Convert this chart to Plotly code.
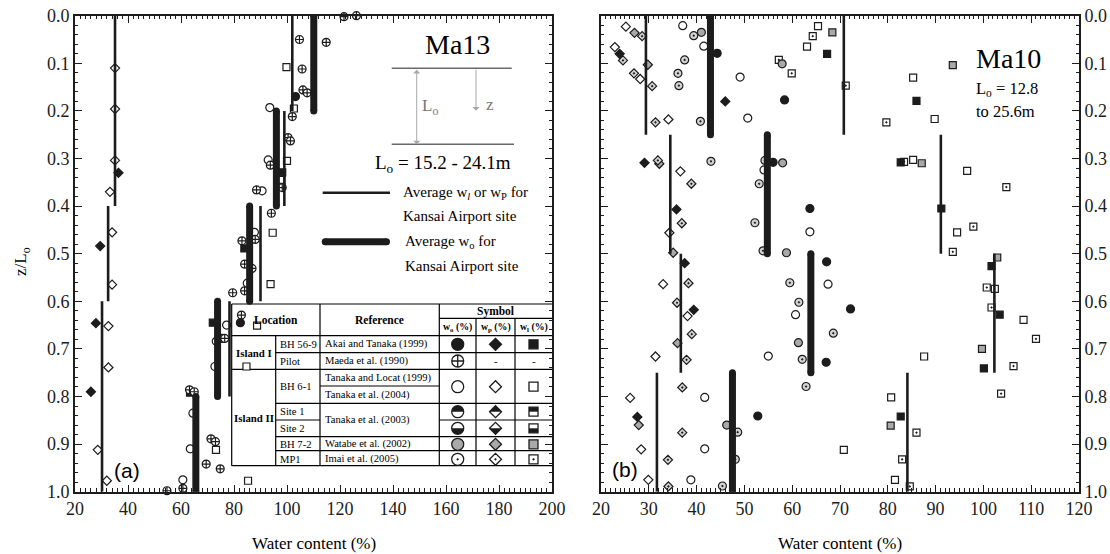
import math
import plotly.graph_objects as go

W, H = 1110, 554
INK = "#1c1c1c"
GRAY_FILL = "#a9a9a9"
DOT_FILL = "#d4d4d4"
SERIF = "'Liberation Serif', 'Times New Roman', Times, 'DejaVu Serif', serif"
SANS = "'Liberation Sans', Arial, sans-serif"

# ---------------- Ma13 : panel (a) ----------------
a_bh569_wo_w = [103.2, 82.4]
a_bh569_wo_z = [0.170, 0.645]
a_bh569_wp_w = [36.4, 29.5, 27.9, 26.0]
a_bh569_wp_z = [0.330, 0.484, 0.646, 0.790]
a_bh569_wl_w = [98.2, 83.9, 72.0, 63.4]
a_bh569_wl_z = [0.329, 0.489, 0.645, 0.792]

a_pilot_wo_w = [126.2, 121.5, 104.7, 114.8, 105.7, 106.0, 107.6, 102.0, 100.4, 101.3,
                93.7, 98.2, 88.5, 94.1, 83.0, 88.0, 84.0, 86.8, 79.5, 84.0,
                82.8, 75.5, 76.5, 63.2, 65.0, 71.3, 73.0, 69.5, 74.8, 60.7, 54.7]
a_pilot_wo_z = [0.000, 0.002, 0.050, 0.056, 0.112, 0.156, 0.162, 0.212, 0.256, 0.263,
                0.314, 0.361, 0.366, 0.415, 0.473, 0.470, 0.522, 0.531, 0.582, 0.578,
                0.629, 0.678, 0.678, 0.786, 0.790, 0.889, 0.895, 0.942, 0.952, 0.993, 0.998]

a_bh61_wo_w = [93.5, 92.9, 90.6, 87.7, 85.0, 77.2, 73.3, 72.8, 64.5, 63.5, 60.7]
a_bh61_wo_z = [0.193, 0.303, 0.368, 0.455, 0.562, 0.650, 0.684, 0.737, 0.835, 0.910, 0.975]
a_bh61_wp_w = [35.1, 35.1, 35.1, 33.2, 34.0, 34.0, 32.6, 32.6, 28.6, 32.0]
a_bh61_wp_z = [0.110, 0.196, 0.304, 0.370, 0.455, 0.565, 0.652, 0.739, 0.912, 0.977]
a_bh61_wl_w = [99.8, 102.6, 100.0, 97.9, 94.6, 93.8, 88.7, 84.7, 73.2, 85.3]
a_bh61_wl_z = [0.108, 0.195, 0.305, 0.345, 0.456, 0.564, 0.651, 0.737, 0.912, 0.977]

# site averages: (water content, top z/Lo, bottom z/Lo)
a_avg_wlp = [(35.1, 0.0, 0.4), (32.5, 0.4, 0.6), (30.2, 0.6, 1.0),
             (102.0, 0.0, 0.2), (99.0, 0.2, 0.4), (90.0, 0.4, 0.6), (78.3, 0.6, 0.8)]
a_avg_wo = [(110.1, 0.0, 0.2), (96.0, 0.2, 0.4), (85.9, 0.4, 0.6),
            (73.8, 0.6, 0.8), (65.6, 0.8, 1.0)]

# ---------------- Ma10 : panel (b) ----------------
b_bh569_wo_w = [44.3, 56.0, 58.4, 63.7, 67.2, 72.2, 67.1, 52.8]
b_bh569_wo_z = [0.079, 0.308, 0.177, 0.405, 0.517, 0.616, 0.728, 0.841]
b_bh569_wp_w = [23.9, 46.0, 29.1, 35.8, 37.5, 39.4, 27.6]
b_bh569_wp_z = [0.080, 0.180, 0.309, 0.407, 0.520, 0.618, 0.843]
b_bh569_wl_w = [67.3, 86.0, 82.7, 91.2, 101.7, 103.4, 100.1, 82.7]
b_bh569_wl_z = [0.080, 0.179, 0.308, 0.405, 0.526, 0.628, 0.741, 0.842]

b_bh61_wo_w = [37.1, 41.5, 49.1, 50.7, 54.1, 63.7, 67.5, 60.7, 55.0, 41.7, 41.7, 38.8]
b_bh61_wo_z = [0.021, 0.064, 0.129, 0.215, 0.324, 0.454, 0.564, 0.628, 0.715, 0.802, 0.910, 0.975]
b_bh61_wp_w = [25.2, 22.9, 28.2, 34.1, 36.6, 34.3, 33.0, 38.1, 31.4, 26.1, 28.4, 29.9]
b_bh61_wp_z = [0.023, 0.066, 0.133, 0.218, 0.327, 0.456, 0.564, 0.631, 0.716, 0.803, 0.911, 0.975]
b_bh61_wl_w = [65.4, 63.1, 85.3, 89.8, 85.3, 96.6, 94.5, 102.4, 108.4, 87.6, 80.7, 70.8, 81.5]
b_bh61_wl_z = [0.022, 0.065, 0.130, 0.217, 0.303, 0.326, 0.455, 0.574, 0.639, 0.716, 0.802, 0.912, 0.975]

b_bh72_wo_w = [41.0, 57.9, 58.0, 58.8, 61.3, 46.3]
b_bh72_wo_z = [0.035, 0.101, 0.309, 0.498, 0.687, 0.860]
b_bh72_wp_w = [27.0, 29.8, 32.2, 35.1, 36.0, 27.9]
b_bh72_wp_z = [0.036, 0.103, 0.311, 0.498, 0.688, 0.860]
b_bh72_wl_w = [68.4, 93.6, 87.1, 102.9, 99.7, 80.6]
b_bh72_wl_z = [0.035, 0.104, 0.310, 0.508, 0.700, 0.861]

b_mp1_wo_w = [39.4, 37.5, 36.1, 36.3, 40.8, 43.0, 54.3, 53.1, 52.2, 53.9, 59.5, 61.4,
              68.6, 62.1, 62.9, 48.6, 48.1, 45.4]
b_mp1_wo_z = [0.042, 0.093, 0.121, 0.147, 0.222, 0.306, 0.304, 0.353, 0.435, 0.494, 0.561, 0.602,
              0.667, 0.722, 0.779, 0.875, 0.932, 0.988]
b_mp1_wp_w = [28.6, 24.6, 26.9, 30.7, 31.4, 31.9, 38.9, 36.9, 38.3, 35.9, 39.0, 37.9,
              37.0, 37.0, 34.0, 34.1]
b_mp1_wp_z = [0.043, 0.094, 0.121, 0.148, 0.224, 0.304, 0.353, 0.436, 0.562, 0.603, 0.669, 0.723,
              0.781, 0.876, 0.933, 0.989]
b_mp1_wl_w = [64.3, 57.2, 59.9, 71.2, 79.7, 83.4, 104.8, 97.9, 93.6, 100.7, 101.7, 111.0,
              106.3, 103.7, 86.0, 83.0, 84.6]
b_mp1_wl_z = [0.043, 0.093, 0.121, 0.147, 0.224, 0.307, 0.360, 0.443, 0.496, 0.571, 0.613, 0.679,
              0.736, 0.794, 0.876, 0.932, 0.989]

b_avg_wlp = [(29.4, 0.0, 0.25), (34.5, 0.25, 0.5), (36.7, 0.5, 0.75), (31.7, 0.75, 1.0),
             (70.8, 0.0, 0.25), (91.1, 0.25, 0.5), (102.3, 0.5, 0.75), (84.1, 0.75, 1.0)]
b_avg_wo = [(42.9, 0.0, 0.25), (54.8, 0.25, 0.5), (63.9, 0.5, 0.75), (47.5, 0.75, 1.0)]

# ---------------- symbol key table ----------------
table_sites = ["BH 56-9", "Pilot", "BH 6-1", "Site 1", "Site 2", "BH 7-2", "MP1"]
table_refs = ["Akai and Tanaka (1999)", "Maeda et al. (1990)", "Tanaka and Locat (1999)",
              "Tanaka et al. (2004)", "Tanaka et al. (2003)", "Watabe et al. (2002)",
              "Imai et al. (2005)"]
table_cols = ["w<sub>o</sub> (%)", "w<sub>p</sub> (%)", "w<sub>l</sub> (%)"]

fig = go.Figure()

AX = {"a": ("x", "y"), "b": ("x2", "y2")}


def markers(panel, w, z, symbol, fill, size, lw=1.2):
    xa, ya = AX[panel]
    fig.add_trace(go.Scatter(
        x=w, y=z, mode="markers", xaxis=xa, yaxis=ya, cliponaxis=False,
        hoverinfo="skip",
        marker=dict(symbol=symbol, size=size, color=fill, line=dict(color=INK, width=lw))))


def averages(panel, segs, width, caps):
    xa, ya = AX[panel]
    xs, ys = [], []
    for w, z0, z1 in segs:
        xs += [w, w, None]
        ys += [z0, z1, None]
    fig.add_trace(go.Scatter(
        x=xs, y=ys, mode="lines+markers" if caps else "lines", xaxis=xa, yaxis=ya,
        hoverinfo="skip", line=dict(color=INK, width=width),
        marker=dict(size=width, color=INK, symbol="circle", line=dict(width=0))))


# panel (a)
markers("a", a_bh61_wp_w, a_bh61_wp_z, "diamond", "white", 7)
markers("a", a_bh569_wp_w, a_bh569_wp_z, "diamond", INK, 7)
markers("a", a_bh61_wl_w, a_bh61_wl_z, "square", "white", 7)
markers("a", a_bh569_wl_w, a_bh569_wl_z, "square", INK, 7)
markers("a", a_bh61_wo_w, a_bh61_wo_z, "circle", "white", 8)
markers("a", a_pilot_wo_w, a_pilot_wo_z, "circle-cross", "white", 8)
markers("a", a_bh569_wo_w, a_bh569_wo_z, "circle", INK, 8)
averages("a", a_avg_wlp, 2.6, False)
averages("a", a_avg_wo, 7, True)

# panel (b)
markers("b", b_bh61_wp_w, b_bh61_wp_z, "diamond", "white", 7)
markers("b", b_bh72_wp_w, b_bh72_wp_z, "diamond", GRAY_FILL, 7)
markers("b", b_mp1_wp_w, b_mp1_wp_z, "diamond-dot", DOT_FILL, 7)
markers("b", b_bh569_wp_w, b_bh569_wp_z, "diamond", INK, 7)
markers("b", b_bh61_wl_w, b_bh61_wl_z, "square", "white", 7)
markers("b", b_bh72_wl_w, b_bh72_wl_z, "square", GRAY_FILL, 7)
markers("b", b_mp1_wl_w, b_mp1_wl_z, "square-dot", "white", 7)
markers("b", b_bh569_wl_w, b_bh569_wl_z, "square", INK, 7)
markers("b", b_bh61_wo_w, b_bh61_wo_z, "circle", "white", 8)
markers("b", b_bh72_wo_w, b_bh72_wo_z, "circle", GRAY_FILL, 8)
markers("b", b_mp1_wo_w, b_mp1_wo_z, "circle-dot", DOT_FILL, 8)
markers("b", b_bh569_wo_w, b_bh569_wo_z, "circle", INK, 8)
averages("b", b_avg_wlp, 2.6, False)
averages("b", b_avg_wo, 7, True)


# ---- overlay drawn in page pixels (x3/y3) for the key table and the Ma13 sketch ----
def ppx(x):
    return x / W


def ppy(y):
    return 1 - y / H


shapes = []


def seg(x0, y0, x1, y1, color="black", width=1.2):
    shapes.append(dict(type="line", xref="paper", yref="paper", layer="below",
                       x0=ppx(x0), y0=ppy(y0), x1=ppx(x1), y1=ppy(y1),
                       line=dict(color=color, width=width)))


# table frame
TL, TR, TT, TB = 231.7, 552.0, 304.0, 465.7
C1, C2, C3, C4, C5 = 275.7, 320.0, 439.3, 476.0, 515.0
seg(TL, TT, TR, TT)
seg(TL, TB, TR, TB)
seg(TL, TT, TL, TB)
seg(C1, 335.7, C1, TB)
seg(C2, TT, C2, TB)
seg(C3, TT, C3, TB)
seg(C4, 318.3, C4, TB)
seg(C5, 318.3, C5, TB)
seg(C3, 318.3, TR, 318.3)
seg(TL, 335.7, TR, 335.7)
seg(C1, 352.7, TR, 352.7)
seg(TL, 369.3, TR, 369.3)
seg(C2, 386.0, C3, 386.0)
seg(C1, 403.3, TR, 403.3)
seg(C1, 420.0, C2, 420.0)
seg(C3, 420.0, TR, 420.0)
seg(C1, 436.7, TR, 436.7)
seg(C1, 450.7, TR, 450.7)

# Ma13 sketch: layer boundaries
seg(391.7, 68.3, 511.7, 68.3, "#6a6a6a", 1.5)
seg(391.7, 144.3, 514.0, 144.3, "#6a6a6a", 1.5)

annotations = []


def text(x, y, s, size=10.6, xanchor="left", color="black", family=SERIF, **kw):
    annotations.append(dict(x=x, y=y, xref="x3", yref="y3", text=s, showarrow=False,
                            xanchor=xanchor, yanchor="middle",
                            font=dict(family=family, size=size, color=color), **kw))


# table header
text(276.0, 320.0, "<b>Location</b>", 11.5, "center")
text(379.6, 320.0, "<b>Reference</b>", 11.5, "center")
text(495.6, 311.0, "<b>Symbol</b>", 11.5, "center")
col_x = [457.7, 495.5, 533.5]
for cx, lab in zip(col_x, table_cols):
    text(cx, 327.3, "<b>" + lab + "</b>", 9.8, "center")
text(254.0, 353.3, "<b>Island I</b>", 10.8, "center")
text(254.0, 418.3, "<b>Island II</b>", 10.8, "center")

site_y = [344.3, 361.0, 386.7, 411.7, 428.3, 444.3, 459.3]
for yy, s in zip(site_y, table_sites):
    text(278.3, yy, s)
ref_y = [344.3, 361.0, 378.3, 395.0, 420.0, 444.3, 459.3]
for yy, s in zip(ref_y, table_refs):
    text(322.7, yy, s)
text(col_x[1], 361.0, "-", 11, "center")
text(col_x[2], 361.0, "-", 11, "center")


def key_marker(x, y, symbol, fill, size):
    fig.add_trace(go.Scatter(x=[x], y=[y], mode="markers", xaxis="x3", yaxis="y3",
                             hoverinfo="skip", cliponaxis=False,
                             marker=dict(symbol=symbol, size=size, color=fill,
                                         line=dict(color=INK, width=1.3))))


def key_half(kind, cx, cy, top):
    sgn = -1 if top else 1
    if kind == "circle":
        r = 6.0
        angs = [math.pi * k / 24 for k in range(25)]
        xs = [cx + r * math.cos(a) for a in angs]
        ys = [cy + sgn * r * math.sin(a) for a in angs]
    elif kind == "diamond":
        r = 6.0
        xs = [cx - r, cx, cx + r]
        ys = [cy, cy + sgn * r, cy]
    else:
        s = 4.5
        xs = [cx - s, cx - s, cx + s, cx + s]
        ys = [cy, cy + sgn * s, cy + sgn * s, cy]
    fig.add_trace(go.Scatter(x=xs + [xs[0]], y=ys + [ys[0]], mode="lines", fill="toself",
                             fillcolor=INK, line=dict(width=0), xaxis="x3", yaxis="y3",
                             hoverinfo="skip"))


kinds = ["circle", "diamond", "square"]
sizes = [12, 9.2, 9]
row_fill = {0: INK, 2: "white", 3: "white", 4: "white", 5: GRAY_FILL}
for i, yy in enumerate(site_y):
    for j, (cx, kind, sz) in enumerate(zip(col_x, kinds, sizes)):
        if i == 1:
            if j == 0:
                key_marker(cx, yy, "circle-cross", "white", sz)
            continue
        if i == 6:
            key_marker(cx, yy, kind + "-dot", "white", sz)
            continue
        key_marker(cx, yy, kind, row_fill[i], sz)
        if i in (3, 4):
            key_half(kind, cx, yy, top=(i == 3))

# Ma13 sketch: arrows and labels
annotations.append(dict(x=416.7, y=144.3, ax=416.7, ay=68.3, xref="x3", yref="y3",
                        axref="x3", ayref="y3", text="", showarrow=True, arrowhead=1,
                        startarrowhead=1, arrowside="end+start", arrowsize=1.2,
                        arrowwidth=1, arrowcolor="#a8a8a8"))
annotations.append(dict(x=476.0, y=110.7, ax=476.0, ay=68.3, xref="x3", yref="y3",
                        axref="x3", ayref="y3", text="", showarrow=True, arrowhead=1,
                        arrowsize=1.2, arrowwidth=1, arrowcolor="#a8a8a8"))
text(420.0, 107.0, "L<sub>o</sub>", 17, "left", "#777777")
text(484.0, 104.0, "z", 17, "left", "#777777")
text(457.3, 44.5, "Ma13", 28, "center")
text(443.3, 163.5, "L<sub>o</sub> = 15.2 - 24.1m", 19, "center")
text(400.7, 192.7, "Average w<sub><i>l</i></sub> or w<sub>P</sub> for", 15)
text(400.7, 215.5, "Kansai Airport site", 15)
text(402.7, 241.7, "Average w<sub>o</sub> for", 15)
text(402.7, 266.0, "Kansai Airport site", 15)

# key lines for the averages
fig.add_trace(go.Scatter(x=[322.7, 390.0], y=[192.7, 192.7], mode="lines", xaxis="x3",
                         yaxis="y3", hoverinfo="skip", line=dict(color=INK, width=2.6)))
fig.add_trace(go.Scatter(x=[325.2, 386.5], y=[241.7, 241.7], mode="lines+markers",
                         xaxis="x3", yaxis="y3", hoverinfo="skip",
                         line=dict(color=INK, width=7),
                         marker=dict(size=7, color=INK, line=dict(width=0))))

# Ma10 labels
text(1008.0, 58.0, "Ma10", 28, "center")
text(974.0, 89.0, "L<sub>o</sub> = 12.8", 16.5)
text(974.0, 111.0, "to 25.6m", 16.5)

# panel tags
text(127.0, 470.0, "(a)", 21, "center", family=SANS)
text(625.0, 469.0, "(b)", 21, "center", family=SANS)

# axis titles
text(313.5, 543.0, "Water content (%)", 17, "center")
text(840.0, 543.0, "Water content (%)", 17, "center")
text(22.0, 262.0, "z/L<sub>o</sub>", 17, "center", textangle=-90)

Y0 = 1 - 491.7 / H
Y1 = 1 - 15.7 / H
common = dict(showline=True, linecolor=INK, linewidth=1.8, mirror="ticks", ticks="inside",
              ticklen=7, tickwidth=1.3, tickcolor=INK, showgrid=False, zeroline=False,
              automargin=False, tickfont=dict(family=SERIF, size=18, color=INK))

fig.update_layout(
    width=W, height=H, margin=dict(l=0, r=0, t=0, b=0),
    paper_bgcolor="white", plot_bgcolor="rgba(0,0,0,0)", showlegend=False,
    font=dict(family=SERIF, size=17, color=INK),
    xaxis=dict(domain=[75 / W, 552 / W], range=[20, 200], dtick=20, tick0=20, anchor="y",
               minor=dict(dtick=2, ticks="inside", ticklen=3.5, tickwidth=1, tickcolor=INK),
               **common),
    yaxis=dict(domain=[Y0, Y1], range=[1, 0], dtick=0.1, tick0=0, tickformat=".1f", anchor="x",
               minor=dict(dtick=0.02, ticks="inside", ticklen=3.5, tickwidth=1, tickcolor=INK),
               **common),
    xaxis2=dict(domain=[601 / W, 1079 / W], range=[20, 120], dtick=10, tick0=20, anchor="y2",
                minor=dict(dtick=1, ticks="inside", ticklen=3.5, tickwidth=1, tickcolor=INK),
                **common),
    yaxis2=dict(domain=[Y0, Y1], range=[1, 0], dtick=0.1, tick0=0, tickformat=".1f",
                anchor="x2", side="right",
                minor=dict(dtick=0.02, ticks="inside", ticklen=3.5, tickwidth=1, tickcolor=INK),
                **common),
    xaxis3=dict(domain=[0, 1], range=[0, W], visible=False, anchor="y3", fixedrange=True),
    yaxis3=dict(domain=[0, 1], range=[H, 0], visible=False, anchor="x3", fixedrange=True),
    shapes=shapes,
    annotations=annotations,
)

fig.write_html("out.html")
